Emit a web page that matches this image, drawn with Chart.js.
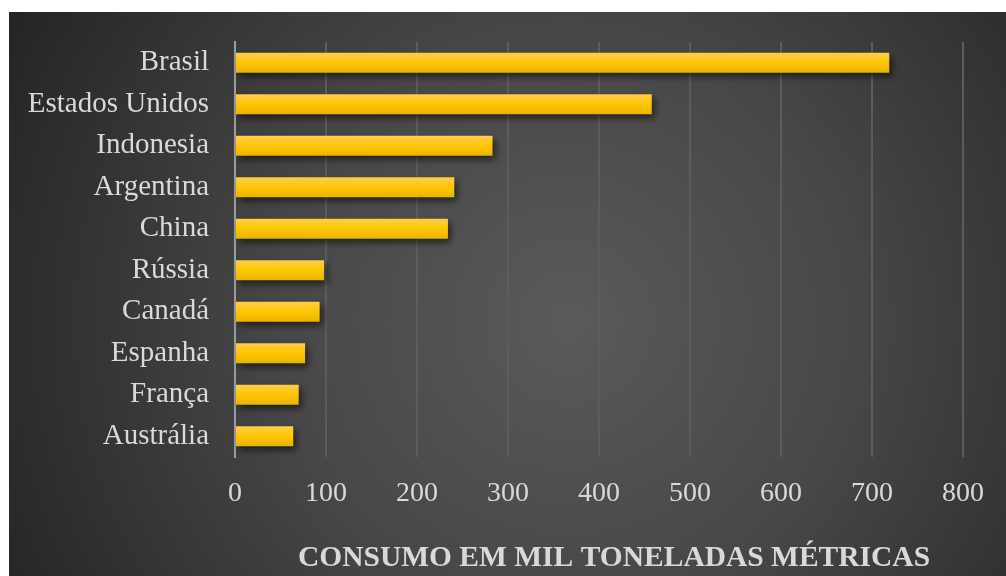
<!DOCTYPE html>
<html>
<head>
<meta charset="utf-8">
<script src="https://cdn.jsdelivr.net/npm/chart.js@4"></script>
<style>
  body { margin: 0; background: #ffffff; }
  .chart-box { position: absolute; left: 9px; top: 12px; width: 997px; height: 564px; }
</style>
</head>
<body>
<div class="chart-box"><canvas id="chart" width="997" height="564"></canvas></div>
<script>
// Chart data
const countries = ['Brasil', 'Estados Unidos', 'Indonesia', 'Argentina', 'China', 'Rússia', 'Canadá', 'Espanha', 'França', 'Austrália'];
const consumption = [719, 458, 283, 241, 234, 98, 93, 77, 70, 64];
const xTicks = [0, 100, 200, 300, 400, 500, 600, 700, 800];
const xTitle = 'CONSUMO EM MIL TONELADAS MÉTRICAS';

const textColor = '#d9d9d9';
const serif = "'Liberation Serif', 'Times New Roman', serif";

// dark radial background
const backgroundPlugin = {
  id: 'background',
  beforeDraw(chart) {
    const ctx = chart.ctx;
    const g = ctx.createRadialGradient(560, 310, 0, 560, 310, 640);
    g.addColorStop(0, '#5a5a5a');
    g.addColorStop(0.45, '#474747');
    g.addColorStop(1, '#242424');
    ctx.save();
    ctx.fillStyle = g;
    ctx.fillRect(0, 0, chart.width, chart.height);
    ctx.restore();
  }
};

// soft drop shadow under the bars
const shadowPlugin = {
  id: 'barShadow',
  beforeDatasetDraw(chart) {
    const ctx = chart.ctx;
    ctx.save();
    ctx.shadowColor = 'rgba(0, 0, 0, 0.55)';
    ctx.shadowBlur = 7;
    ctx.shadowOffsetX = 3;
    ctx.shadowOffsetY = 4;
  },
  afterDatasetDraw(chart) {
    chart.ctx.restore();
  }
};

// axis title, centred a bit right of the plot like the original
const xTitlePlugin = {
  id: 'xTitle',
  afterDraw(chart) {
    const ctx = chart.ctx;
    ctx.save();
    ctx.fillStyle = textColor;
    ctx.font = 'bold 29.5px ' + serif;
    ctx.textAlign = 'center';
    ctx.textBaseline = 'middle';
    ctx.fillText(xTitle, 605, 546);
    ctx.restore();
  }
};

function barGradient(context) {
  const chart = context.chart;
  const yScale = chart.scales.y;
  if (!yScale || context.dataIndex === undefined) return '#ffc800';
  const y = yScale.getPixelForValue(context.dataIndex);
  if (!isFinite(y)) return '#ffc800';
  const g = chart.ctx.createLinearGradient(0, y - 10, 0, y + 10);
  g.addColorStop(0, '#ffcd4a');
  g.addColorStop(0.5, '#ffc600');
  g.addColorStop(1, '#e8b400');
  return g;
}

new Chart(document.getElementById('chart'), {
  type: 'bar',
  data: {
    labels: countries,
    datasets: [{
      data: consumption,
      backgroundColor: barGradient,
      borderWidth: 0,
      barPercentage: 0.48,
      categoryPercentage: 1
    }]
  },
  options: {
    indexAxis: 'y',
    responsive: false,
    animation: false,
    layout: { padding: { left: 0, right: 43, top: 30, bottom: 0 } },
    plugins: {
      legend: { display: false },
      tooltip: { enabled: false }
    },
    scales: {
      x: {
        min: 0,
        max: 800,
        afterFit(scale) { scale.height = 119; },
        afterBuildTicks(scale) { scale.ticks = xTicks.map(v => ({ value: v })); },
        grid: { color: '#5c5c5c', lineWidth: 2, drawTicks: false },
        border: { display: false },
        ticks: {
          padding: 20,
          color: textColor,
          font: { family: serif, size: 28 }
        }
      },
      y: {
        z: 1,
        afterFit(scale) {
          scale.width = 226;
          scale.paddingTop = 0;
          scale.paddingBottom = 0;
        },
        grid: { display: false, drawTicks: false },
        border: { display: true, color: '#9c9c9c', width: 2 },
        ticks: {
          padding: 26,
          color: textColor,
          font: { family: serif, size: 29 }
        }
      }
    }
  },
  plugins: [backgroundPlugin, shadowPlugin, xTitlePlugin]
});
</script>
</body>
</html>
